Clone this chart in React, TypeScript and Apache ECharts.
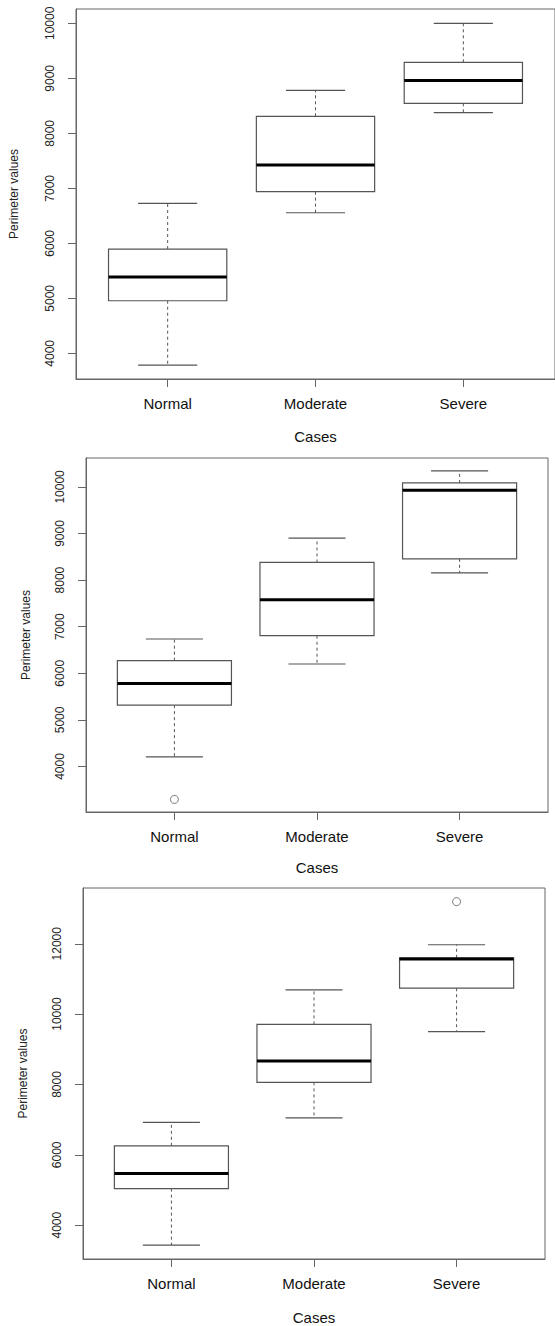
import React, { useEffect, useRef } from "react";
import * as echarts from "echarts";

const categories = ["Normal", "Moderate", "Severe"];

// [min, Q1, median, Q3, max]
const chart1Boxes = [
  [3787, 4956, 5387, 5896, 6727],
  [6556, 6939, 7424, 8309, 8782],
  [8376, 8545, 8958, 9291, 10000],
];
const chart1Outliers: number[][] = [];
const chart1Ticks = [4000, 5000, 6000, 7000, 8000, 9000, 10000];

const chart2Boxes = [
  [4207, 5316, 5779, 6271, 6736],
  [6200, 6807, 7579, 8379, 8900],
  [8157, 8457, 9929, 10086, 10343],
];
const chart2Outliers = [[1, 3293]];
const chart2Ticks = [4000, 5000, 6000, 7000, 8000, 9000, 10000];

const chart3Boxes = [
  [3434, 5039, 5472, 6256, 6924],
  [7048, 8058, 8664, 9708, 10691],
  [9502, 10736, 11565, 11600, 11972],
];
const chart3Outliers = [[3, 13197]];
const chart3Ticks = [4000, 6000, 8000, 10000, 12000];

const FONT = "Liberation Sans, Arial, sans-serif";
const LINE = "#555";

const panels = [
  { boxes: chart1Boxes, outliers: chart1Outliers, ticks: chart1Ticks, grid: { left: 75, top: 9, width: 482, height: 370 }, yMin: 3533, yMax: 10260, xGap: 50, yGap: 56 },
  { boxes: chart2Boxes, outliers: chart2Outliers, ticks: chart2Ticks, grid: { left: 86, top: 458, width: 462, height: 354 }, yMin: 3023, yMax: 10621, xGap: 48, yGap: 54 },
  { boxes: chart3Boxes, outliers: chart3Outliers, ticks: chart3Ticks, grid: { left: 83, top: 888, width: 462, height: 373 }, yMin: 3038, yMax: 13585, xGap: 51, yGap: 54 },
];

function renderBox(params: any, api: any) {
  const x = api.value(0);
  const mn = api.value(1), q1 = api.value(2), md = api.value(3), q3 = api.value(4), mx = api.value(5);
  const c = (v: number) => api.coord([x, v]);
  const pMin = c(mn), pQ1 = c(q1), pMd = c(md), pQ3 = c(q3), pMax = c(mx);
  const halfBox = api.size([0.4, 0])[0];
  const halfCap = api.size([0.2, 0])[0];
  const cx = pMd[0];
  const dashed = { stroke: LINE, lineWidth: 1, lineDash: [3, 3] };
  const solid = { stroke: LINE, lineWidth: 1.2 };
  return {
    type: "group",
    children: [
      { type: "line", shape: { x1: cx, y1: pQ3[1], x2: cx, y2: pMax[1] }, style: dashed },
      { type: "line", shape: { x1: cx, y1: pQ1[1], x2: cx, y2: pMin[1] }, style: dashed },
      { type: "line", shape: { x1: cx - halfCap, y1: pMax[1], x2: cx + halfCap, y2: pMax[1] }, style: solid },
      { type: "line", shape: { x1: cx - halfCap, y1: pMin[1], x2: cx + halfCap, y2: pMin[1] }, style: solid },
      { type: "rect", shape: { x: cx - halfBox, y: pQ3[1], width: halfBox * 2, height: pQ1[1] - pQ3[1] }, style: { fill: "none", stroke: LINE, lineWidth: 1.2 } },
      { type: "line", shape: { x1: cx - halfBox, y1: pMd[1], x2: cx + halfBox, y2: pMd[1] }, style: { stroke: "#000", lineWidth: 3 } },
    ],
  };
}

export default function App() {
  const ref = useRef<HTMLDivElement>(null);
  useEffect(() => {
    if (!ref.current) return;
    const chart = echarts.init(ref.current, null, { renderer: "svg" });
    const grids: any[] = [];
    const xAxes: any[] = [];
    const yAxes: any[] = [];
    const series: any[] = [];
    panels.forEach((p, i) => {
      grids.push({ ...p.grid, show: true, borderColor: "#666", borderWidth: 1, backgroundColor: "transparent" });
      xAxes.push({
        type: "value", gridIndex: i, min: 0.38, max: 3.62,
        name: "Cases", nameLocation: "middle", nameGap: p.xGap,
        nameTextStyle: { fontFamily: FONT, fontSize: 15, color: "#111" },
        axisLine: { show: true, lineStyle: { color: "#666" } },
        axisTick: { show: true, length: 8, customValues: [1, 2, 3], lineStyle: { color: "#666" } },
        axisLabel: { customValues: [1, 2, 3], margin: 17, fontFamily: FONT, fontSize: 15, color: "#111", formatter: (v: number) => categories[Math.round(v) - 1] },
        splitLine: { show: false },
      });
      yAxes.push({
        type: "value", gridIndex: i, min: p.yMin, max: p.yMax,
        name: "Perimeter values", nameLocation: "middle", nameGap: p.yGap, nameRotate: 90,
        nameTextStyle: { fontFamily: FONT, fontSize: 12, color: "#222" },
        axisLine: { show: true, lineStyle: { color: "#666" } },
        axisTick: { show: true, length: 8, customValues: p.ticks, lineStyle: { color: "#666" } },
        axisLabel: { customValues: p.ticks, rotate: 90, margin: 20, fontFamily: FONT, fontSize: 12, color: "#222", formatter: (v: number) => String(v) },
        splitLine: { show: false },
      });
      series.push({
        type: "custom", xAxisIndex: i, yAxisIndex: i,
        data: p.boxes.map((b, k) => [k + 1, ...b]),
        renderItem: renderBox,
        encode: { x: 0, y: [1, 2, 3, 4, 5] },
      });
      series.push({
        type: "scatter", xAxisIndex: i, yAxisIndex: i,
        data: p.outliers,
        symbol: "circle", symbolSize: 8,
        itemStyle: { color: "transparent", borderColor: LINE, borderWidth: 1 },
      });
    });
    chart.setOption({
      animation: false,
      backgroundColor: "#fff",
      grid: grids,
      xAxis: xAxes,
      yAxis: yAxes,
      series,
    });
    return () => chart.dispose();
  }, []);
  return <div ref={ref} style={{ position: "absolute", left: 0, top: 0, width: 555, height: 1326 }} />;
}
